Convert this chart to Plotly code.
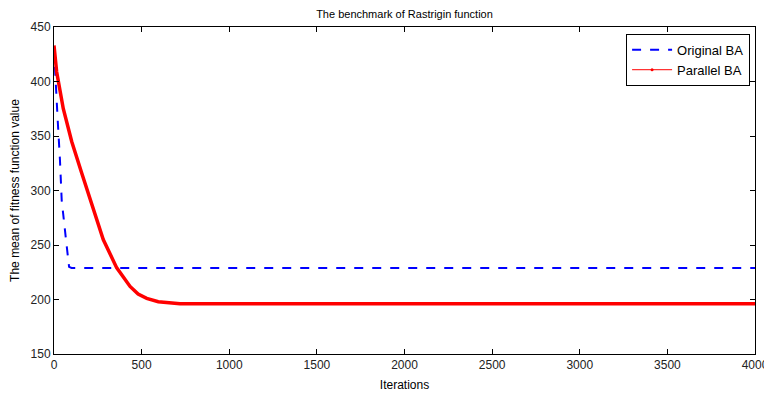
import plotly.graph_objects as go

# Original BA (blue dashed)
orig_iter = [0, 11, 21, 34, 44, 67, 86, 100, 4000]
orig_val = [430, 401, 365, 328, 291, 257, 230, 229, 229]

# Parallel BA (red)
par_iter = [0, 15, 53, 101, 158, 224, 281, 358, 405, 434, 480, 529, 595, 650, 719, 4000]
par_val = [433, 409, 375, 345, 316, 282, 255, 229, 218, 212, 205, 201, 198, 197, 196, 196]

x_ticks = [0, 500, 1000, 1500, 2000, 2500, 3000, 3500, 4000]
y_ticks = [150, 200, 250, 300, 350, 400, 450]

font_family = "Liberation Sans, Arial, Helvetica, sans-serif"

fig = go.Figure()
fig.add_trace(go.Scatter(
    x=orig_iter, y=orig_val, mode="lines", name="Original BA",
    line=dict(color="#0000ff", width=2, dash="dash"),
))
fig.add_trace(go.Scatter(
    x=par_iter, y=par_val, mode="lines", name="Parallel BA",
    line=dict(color="#ff0000", width=3.5), showlegend=False,
))
# legend-only entry (thin line with dot marker)
fig.add_trace(go.Scatter(
    x=[None], y=[None], mode="lines+markers", name="Parallel BA",
    line=dict(color="#ff0000", width=1), marker=dict(size=3, color="#ff0000"),
))

axis_common = dict(
    showgrid=False, zeroline=False, showline=True, linecolor="black", linewidth=1,
    mirror="ticks", ticks="inside", ticklen=5, tickcolor="black", automargin=False,
    tickfont=dict(size=12, color="#222222", family=font_family),
)

# page has an 8px body margin, so the figure is drawn 8px right/down
fig.update_layout(
    width=764, height=386,
    margin=dict(l=46, r=17, t=19, b=40),
    paper_bgcolor="white", plot_bgcolor="white",
    font=dict(family=font_family, color="black"),
    title=dict(text="The benchmark of Rastrigin function", x=0.5, xanchor="center",
               xref="paper", yref="container",
               y=0.993, yanchor="top", font=dict(size=11, color="black"),
               pad=dict(t=0, b=0)),
    xaxis=dict(range=[0, 4000], tickvals=x_ticks,
               title=dict(text="Iterations", font=dict(size=12), standoff=9),
               **axis_common),
    yaxis=dict(range=[150, 450], tickvals=y_ticks,
               title=dict(text="The mean of fitness function value", font=dict(size=12), standoff=13),
               **axis_common),
    legend=dict(x=0.993, y=0.979, xanchor="right", yanchor="top",
                bgcolor="white", bordercolor="black", borderwidth=1,
                font=dict(size=13, color="black"), tracegroupgap=0,
                itemwidth=40),
    showlegend=True,
)

fig.write_html("out.html")
